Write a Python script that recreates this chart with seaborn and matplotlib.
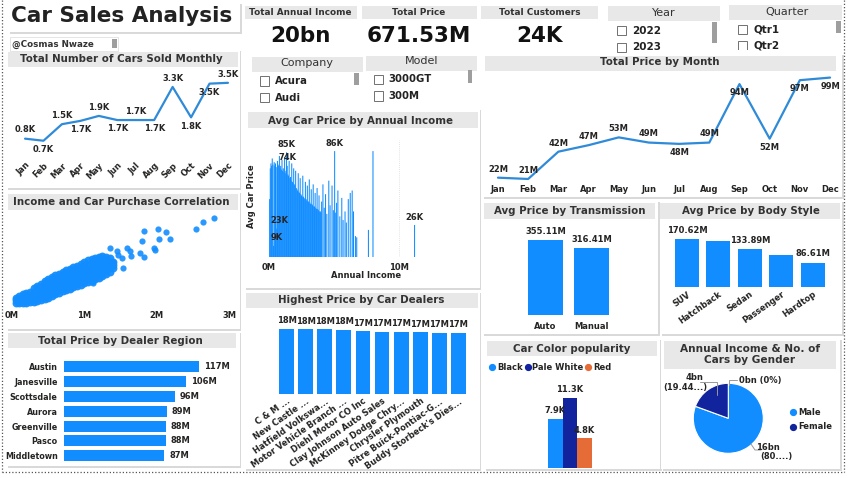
import matplotlib
matplotlib.use("Agg")
import matplotlib.pyplot as plt
from matplotlib.patches import Rectangle
from matplotlib.lines import Line2D
import seaborn as sns

sns.set_style("white")
plt.rcParams['font.family'] = ['DejaVu Sans']

# ---------------- data ----------------
months = ["Jan", "Feb", "Mar", "Apr", "May", "Jun", "Jul", "Aug", "Sep", "Oct", "Nov", "Dec"]
cars_sold_k = [0.8, 0.7, 1.5, 1.66, 1.9, 1.7, 1.7, 1.7, 3.3, 1.83, 3.46, 3.5]
price_month_m = [22, 21, 42, 47, 53, 49, 48, 49, 94, 52, 97, 99]

kpi_titles = ["Total Annual Income", "Total Price", "Total Customers"]
kpi_values = ["20bn", "671.53M", "24K"]

company_items = ["Acura", "Audi"]
model_items = ["3000GT", "300M"]
year_items = ["2022", "2023"]
quarter_items = ["Qtr1", "Qtr2"]

blob_income = [
    0.05, 0.05, 0.05,
    0.10, 0.10, 0.10,
    0.15, 0.15, 0.15, 0.15,
    0.20, 0.20, 0.20, 0.20,
    0.25, 0.25, 0.25, 0.25,
    0.30, 0.30, 0.30, 0.30, 0.30,
    0.35, 0.35, 0.35, 0.35, 0.35, 0.35,
    0.40, 0.40, 0.40, 0.40, 0.40, 0.40,
    0.45, 0.45, 0.45, 0.45, 0.45, 0.45, 0.45,
    0.50, 0.50, 0.50, 0.50, 0.50, 0.50, 0.50,
    0.55, 0.55, 0.55, 0.55, 0.55, 0.55, 0.55,
    0.60, 0.60, 0.60, 0.60, 0.60, 0.60, 0.60,
    0.65, 0.65, 0.65, 0.65, 0.65, 0.65, 0.65,
    0.70, 0.70, 0.70, 0.70, 0.70, 0.70, 0.70,
    0.75, 0.75, 0.75, 0.75, 0.75, 0.75, 0.75,
    0.80, 0.80, 0.80, 0.80, 0.80, 0.80, 0.80,
    0.85, 0.85, 0.85, 0.85, 0.85, 0.85, 0.85,
    0.90, 0.90, 0.90, 0.90, 0.90, 0.90, 0.90,
    0.95, 0.95, 0.95, 0.95, 0.95, 0.95, 0.95,
    1.00, 1.00, 1.00, 1.00, 1.00, 1.00, 1.00,
    1.05, 1.05, 1.05, 1.05, 1.05, 1.05, 1.05,
    1.10, 1.10, 1.10, 1.10, 1.10, 1.10, 1.10,
    1.15, 1.15, 1.15, 1.15, 1.15, 1.15, 1.15,
    1.20, 1.20, 1.20, 1.20, 1.20, 1.20, 1.20,
    1.25, 1.25, 1.25, 1.25, 1.25, 1.25, 1.25,
    1.30, 1.30, 1.30, 1.30, 1.30, 1.30,
    1.35, 1.35, 1.35, 1.35, 1.35,
    1.40, 1.40, 1.40,
]
blob_price = [
    0.07, 0.15, 0.22,
    0.07, 0.17, 0.27,
    0.07, 0.17, 0.27, 0.32,
    0.07, 0.17, 0.27, 0.35,
    0.08, 0.18, 0.28, 0.40,
    0.10, 0.20, 0.30, 0.40, 0.50,
    0.12, 0.22, 0.32, 0.42, 0.50, 0.57,
    0.14, 0.24, 0.34, 0.44, 0.54, 0.64,
    0.17, 0.27, 0.37, 0.47, 0.57, 0.66, 0.71,
    0.22, 0.32, 0.42, 0.52, 0.62, 0.70, 0.78,
    0.27, 0.37, 0.47, 0.57, 0.67, 0.77, 0.85,
    0.32, 0.42, 0.52, 0.62, 0.72, 0.82, 0.90,
    0.36, 0.46, 0.56, 0.66, 0.76, 0.86, 0.94,
    0.41, 0.51, 0.61, 0.71, 0.81, 0.91, 0.99,
    0.45, 0.55, 0.65, 0.75, 0.85, 0.95, 1.04,
    0.49, 0.59, 0.69, 0.79, 0.89, 0.99, 1.09,
    0.53, 0.63, 0.73, 0.83, 0.93, 1.03, 1.14,
    0.57, 0.67, 0.77, 0.87, 0.97, 1.07, 1.18,
    0.61, 0.71, 0.81, 0.91, 1.01, 1.11, 1.23,
    0.65, 0.75, 0.85, 0.95, 1.05, 1.15, 1.28,
    0.69, 0.79, 0.89, 0.99, 1.09, 1.19, 1.33,
    0.73, 0.83, 0.93, 1.03, 1.13, 1.23, 1.36,
    0.77, 0.87, 0.97, 1.07, 1.17, 1.27, 1.40,
    0.82, 0.92, 1.02, 1.12, 1.22, 1.32, 1.43,
    0.87, 0.97, 1.07, 1.17, 1.27, 1.37, 1.46,
    0.93, 1.03, 1.13, 1.23, 1.33, 1.42,
    1.00, 1.10, 1.20, 1.30, 1.40,
    1.10, 1.20, 1.30,
]
outlier_income = [2.79, 2.64, 2.55, 2.13, 2.19, 2.02, 2.03, 1.83, 1.80, 1.97, 1.98, 1.77,
                  1.82, 1.63, 1.59, 1.64, 1.54, 1.35, 1.45, 1.47, 1.52, 1.40, 1.30, 1.12]
outlier_price = [2.60, 2.48, 2.28, 2.17, 1.97, 2.28, 1.98, 2.22, 1.90, 1.70, 1.63, 1.55,
                 1.43, 1.62, 1.69, 1.45, 1.10, 1.70, 1.60, 1.50, 1.40, 1.30, 1.27, 0.65]

regions = ["Austin", "Janesville", "Scottsdale", "Aurora", "Greenville", "Pasco", "Middletown"]
region_price_m = [117, 106, 96, 89, 88, 88, 87]

inc_income_m = [
    0.05, 0.10, 0.15, 0.20, 0.25, 0.30, 0.35, 0.40, 0.45, 0.50,
    0.55, 0.60, 0.65, 0.70, 0.75, 0.80, 0.85, 0.90, 0.95, 1.00,
    1.05, 1.10, 1.15, 1.20, 1.25, 1.30, 1.35, 1.40, 1.45, 1.50,
    1.55, 1.60, 1.65, 1.70, 1.75, 1.80, 1.85, 1.90, 1.95, 2.00,
    2.05, 2.10, 2.15, 2.20, 2.25, 2.30, 2.35, 2.40, 2.45, 2.50,
    2.55, 2.60, 2.65, 2.70, 2.75, 2.80, 2.85, 2.90, 2.95, 3.00,
    3.05, 3.10, 3.15, 3.20, 3.25, 3.30, 3.35, 3.40, 3.45, 3.50,
    3.55, 3.60, 3.65, 3.70, 3.75, 3.80, 3.85, 3.90, 3.95, 4.00,
    4.05, 4.15, 4.25, 4.35, 4.45, 4.60, 4.70, 4.85, 4.95, 5.05,
    5.10, 5.20, 5.30, 5.45, 5.60, 5.70, 5.85, 5.95, 6.10, 6.25,
    6.40, 6.50, 6.65, 6.75, 7.65, 8.00, 11.20,
]
inc_avg_price_k = [
    47, 72, 76, 74, 80, 75, 9, 77, 74, 76,
    73, 23, 78, 75, 74, 82, 72, 74, 71, 79,
    70, 72, 69, 81, 68, 70, 85, 74, 67, 66,
    78, 64, 65, 62, 76, 61, 60, 72, 59, 58,
    70, 56, 55, 54, 68, 53, 52, 64, 51, 50,
    49, 66, 49, 48, 47, 61, 47, 46, 58, 45,
    45, 63, 44, 43, 55, 43, 42, 59, 41, 41,
    52, 40, 39, 56, 39, 38, 50, 37, 37, 36,
    45, 59, 40, 51, 35, 62, 42, 58, 38, 86,
    36, 44, 54, 33, 48, 30, 37, 28, 47, 52,
    54, 37, 17, 16, 22, 86, 26,
]
inc_labelled = [0.35, 0.60, 1.35, 1.40, 5.05, 11.20]

dealers = ["C & M ...", "New Castle ...", "Hatfield Volkswa...", "Motor Vehicle Branch ...",
           "Diehl Motor CO Inc", "Clay Johnson Auto Sales", "McKinney Dodge Chry...",
           "Chrysler Plymouth", "Pitre Buick-Pontiac-G...", "Buddy Storbeck's Dies..."]
dealer_price_m = [18.2, 18.1, 18.0, 17.9, 17.45, 17.4, 17.4, 17.2, 17.1, 17.0]

transmissions = ["Auto", "Manual"]
transmission_price_m = [355.11, 316.41]

body_styles = ["SUV", "Hatchback", "Sedan", "Passenger", "Hardtop"]
body_price_m = [170.62, 164.7, 133.89, 112.7, 86.61]
body_labelled = [True, False, True, False, True]

car_colors = ["Black", "Pale White", "Red"]
car_color_count_k = [7.9, 11.3, 4.8]

genders = ["Male", "Female"]
gender_income_bn = [16.12, 3.89]
gender_labels = ["16bn\n(80....)", "4bn\n(19.44...)"]

# ---------------- style ----------------
W, H = 850, 478
BLUE = "#118DFF"
NAVY = "#12239E"
ORANGE = "#E66C37"
LINEC = "#2F8AD8"
BAND = "#E8E8E8"
SHADOW = "#D9D9D9"
TXT = "#252423"

fig = plt.figure(figsize=(8.5, 4.78), dpi=100)
fig.patch.set_facecolor("white")


def fx(x):
    return x / W


def fy(y):
    return 1 - y / H


def rect(x0, y0, x1, y1, fc, ec="none", lw=0, z=-2):
    fig.add_artist(Rectangle((fx(x0), fy(y1)), (x1 - x0) / W, (y1 - y0) / H,
                             transform=fig.transFigure, facecolor=fc, edgecolor=ec,
                             linewidth=lw, zorder=z))


def fline(xs, ys, color="#8a8a8a", lw=0.7, ls="-", z=2):
    fig.add_artist(Line2D([fx(x) for x in xs], [fy(y) for y in ys], transform=fig.transFigure,
                          color=color, linewidth=lw, linestyle=ls, zorder=z))


def text(x, y, s, size=6, weight="bold", ha="center", va="center", color=TXT, **kw):
    return fig.text(fx(x), fy(y), s, fontsize=size, fontweight=weight, ha=ha, va=va,
                    color=color, **kw)


def panel(x0, y0, x1, y1):
    rect(x0 + 1.5, y0 + 1.5, x1 + 1.5, y1 + 1.5, SHADOW, z=-3)
    rect(x0, y0, x1, y1, "white", z=-2.5)


def band(x0, y0, x1, y1, title, cx, cy, size=7.4, weight="bold"):
    rect(x0, y0, x1, y1, BAND, z=-2)
    text(cx, cy, title, size=size, weight=weight, color="#333333")


def axes(x0, y0, x1, y1):
    ax = fig.add_axes([fx(x0), fy(y1), (x1 - x0) / W, (y1 - y0) / H])
    ax.set_facecolor("none")
    for s in ax.spines.values():
        s.set_visible(False)
    return ax


def checkbox(x0, y0, size=9):
    rect(x0, y0, x0 + size, y0 + size, "white", ec="#707070", lw=0.7, z=1)


def scrollbar(x0, y0, x1, y1):
    rect(x0, y0, x1, y1, "#9E9E9E", z=1)


# ---------------- panels ----------------
panel(8, 2, 240, 32)
panel(6, 50, 240, 188)
panel(6, 192, 240, 329)
panel(6, 331, 240, 466)
panel(244, 108, 480, 288)
panel(244, 291, 480, 469)
panel(482, 53, 842, 197)
panel(482, 200, 658, 334)
panel(660, 200, 842, 334)
panel(484, 338, 660, 469)
panel(661, 338, 840, 469)

# outer dotted frame
fline([1.5, 1.5], [0, 472], color="#555555", lw=0.9, ls=(0, (1, 1.6)))
fline([1.5, 844], [472, 472], color="#555555", lw=0.9, ls=(0, (1, 1.6)))
fline([844, 844], [0, 472], color="#555555", lw=0.9, ls=(0, (1, 1.6)))

# title
text(121.5, 16.5, "Car Sales Analysis", size=15.5, weight="bold", color="#222222")
rect(10, 37, 118, 51, "white", ec="#E0E0E0", lw=0.6, z=-1)
text(12.5, 44.3, "@Cosmas Nwaze", size=6.3, ha="left", color="#333333")
scrollbar(112, 39, 116.5, 48)

# KPI cards
kpi_bands = [(245, 357, 300.5), (362, 477, 419), (481, 598, 540)]
for (x0, x1, cx), kt, kv in zip(kpi_bands, kpi_titles, kpi_values):
    band(x0, 6, x1, 18.5, kt, cx, 12.3, size=6.4)
    text(cx, 35.5, kv, size=15.5, weight="bold", color="#111111")

# slicers
band(252, 57, 363, 72, "Company", 306.7, 63, size=8, weight="normal")
band(366, 56, 477, 71, "Model", 421.7, 61.5, size=8, weight="normal")
band(608, 6, 720, 21, "Year", 663.5, 12.8, size=8, weight="normal")
band(729, 5, 842, 20, "Quarter", 786.7, 11.8, size=8, weight="normal")
for i, it in enumerate(company_items):
    y = 81 + i * 16.7
    checkbox(259.5, y - 4.5)
    text(275, y, it, size=7.3, ha="left", color="#222222")
for i, it in enumerate(model_items):
    y = 79.5 + i * 16.5
    checkbox(373.5, y - 4.5)
    text(388, y, it, size=7.3, ha="left", color="#222222")
for i, it in enumerate(year_items):
    y = 30.8 + i * 16.3
    checkbox(616.5, y - 4.5)
    text(632.5, y, it, size=7.5, ha="left", color="#222222")
for i, it in enumerate(quarter_items):
    y = 29.5 + i * 16.5
    checkbox(737.5, y - 4.5)
    text(753, y, it, size=7.5, ha="left", color="#222222")
rect(730, 50, 842, 53, "white", z=2.5)
scrollbar(354, 73, 358.5, 85)
scrollbar(468, 70, 472, 83)
scrollbar(712, 22, 716.5, 43)
scrollbar(836, 21, 840.5, 33)

# ---------------- Total Number of Cars Sold Monthly ----------------
band(8, 52, 238, 67, "Total Number of Cars Sold Monthly", 121, 59.5)
ax = axes(16, 70, 237, 158)
xs = list(range(len(months)))
sns.lineplot(x=xs, y=cars_sold_k, ax=ax, color=LINEC, linewidth=1.6, sort=False)
ax.set_xlim(-0.49, 11.49)
ax.set_ylim(-0.135, 4.12)
ax.set_yticks([])
ax.set_xticks(xs)
ax.set_xticklabels(months, rotation=45, ha="right", rotation_mode="anchor",
                   fontsize=6, fontweight="bold", color=TXT)
ax.tick_params(axis="x", length=0, pad=2)
cars_above = [1, 0, 1, 0, 1, 0, 1, 0, 1, 0, 0, 1]
for i, (v, up) in enumerate(zip(cars_sold_k, cars_above)):
    ax.annotate(f"{v:.1f}K", (i, v), xytext=(0, 3 if up else -3), textcoords="offset points",
                ha="center", va="bottom" if up else "top", fontsize=6, fontweight="bold", color=TXT)

# ---------------- Income and Car Purchase Correlation ----------------
band(8, 194, 238, 210, "Income and Car Purchase Correlation", 121, 202)
ax = axes(12, 213, 229, 308)
sns.scatterplot(x=blob_income, y=blob_price, ax=ax, color=BLUE, s=32, linewidth=0, alpha=0.95)
sns.scatterplot(x=outlier_income, y=outlier_price, ax=ax, color=BLUE, s=20, linewidth=0, alpha=0.9)
ax.set_xlim(0, 3)
ax.set_ylim(-0.09, 2.75)
ax.set_yticks([])
ax.set_xticks([0, 1, 2, 3])
ax.set_xticklabels(["0M", "1M", "2M", "3M"], fontsize=6, fontweight="bold", color=TXT)
ax.tick_params(axis="x", length=0, pad=2)

# ---------------- Total Price by Dealer Region ----------------
band(8, 333, 236, 348, "Total Price by Dealer Region", 120, 340.7)
ax = axes(64, 359, 236, 463)
sns.barplot(x=region_price_m, y=regions, orient="y", ax=ax, color=BLUE, saturation=1,
            width=0.74, linewidth=0)
ax.set_xlim(0, 149)
ax.set_ylim(6.49, -0.52)
ax.set_xlabel("")
ax.set_ylabel("")
ax.set_xticks([])
ax.set_yticks(range(len(regions)))
ax.set_yticklabels(regions, fontsize=5.8, fontweight="bold", color=TXT)
ax.tick_params(axis="y", length=0, pad=4.5)
for i, v in enumerate(region_price_m):
    ax.text(v + 4, i, f"{v}M", va="center", ha="left", fontsize=6, fontweight="bold", color=TXT)

# ---------------- Avg Car Price by Annual Income ----------------
band(248, 112, 478, 128, "Avg Car Price by Annual Income", 360.7, 120.5)
ax = axes(269, 140, 465, 257)
sns.barplot(x=inc_income_m, y=inc_avg_price_k, native_scale=True, orient="x", ax=ax,
            color=BLUE, saturation=1, width=1.6, errorbar=None, linewidth=0, snap=False)
ax.set_xlim(0, 15.08)
ax.set_ylim(0, 95)
ax.set_xlabel("")
ax.set_ylabel("")
ax.set_yticks([])
ax.set_xticks([0, 10])
ax.set_xticklabels(["0M", "10M"], fontsize=6, fontweight="bold", color=TXT)
ax.tick_params(axis="x", length=0, pad=4)
ax.axvline(10, color="#DADADA", linewidth=0.6, linestyle=(0, (1, 1.5)), zorder=0)
for xv in inc_labelled:
    v = inc_avg_price_k[inc_income_m.index(xv)]
    ax.annotate(f"{v}K", (xv, v), xytext=(0 if xv > 1 else 2, 2.5), textcoords="offset points",
                ha="center", va="bottom", fontsize=6, fontweight="bold", color=TXT)
text(251.5, 196, "Avg Car Price", size=6, rotation=90)
text(366, 275, "Annual Income", size=6)

# ---------------- Highest Price by Car Dealers ----------------
band(246, 293, 478, 308, "Highest Price by Car Dealers", 360.7, 300.3)
ax = axes(277, 315, 468, 394)
sns.barplot(x=dealers, y=dealer_price_m, ax=ax, color=BLUE, saturation=1, width=0.78, linewidth=0)
ax.set_xlim(-0.5, 9.5)
ax.set_ylim(0, 22)
ax.set_xlabel("")
ax.set_ylabel("")
ax.set_yticks([])
ax.set_xticks(range(len(dealers)))
ax.set_xticklabels(dealers, rotation=35, ha="right", rotation_mode="anchor",
                   fontsize=6, fontweight="bold", color=TXT)
ax.tick_params(axis="x", length=0, pad=2)
for i, v in enumerate(dealer_price_m):
    ax.annotate(f"{round(v)}M", (i, v), xytext=(0, 2.5), textcoords="offset points",
                ha="center", va="bottom", fontsize=6, fontweight="bold", color=TXT)

# ---------------- Total Price by Month ----------------
band(485, 56, 836, 71, "Total Price by Month", 660, 62.5)
ax = axes(485, 72, 840, 183)
sns.lineplot(x=xs, y=price_month_m, ax=ax, color=LINEC, linewidth=1.6, sort=False)
ax.set_xlim(-0.43, 11.33)
ax.set_ylim(17.9, 103.3)
ax.set_yticks([])
ax.set_xticks(xs)
ax.set_xticklabels(months, fontsize=6, fontweight="bold", color=TXT)
ax.tick_params(axis="x", length=0, pad=1.5)
month_above = [1, 1, 1, 1, 1, 1, 0, 1, 0, 0, 0, 0]
for i, (v, up) in enumerate(zip(price_month_m, month_above)):
    ax.annotate(f"{v}M", (i, v), xytext=(0, 3 if up else -3), textcoords="offset points",
                ha="center", va="bottom" if up else "top", fontsize=6, fontweight="bold", color=TXT)

# ---------------- Avg Price by Transmission ----------------
band(484, 203, 655, 219, "Avg Price by Transmission", 570, 210.8)
ax = axes(522.5, 225, 614.5, 315.3)
sns.barplot(x=transmissions, y=transmission_price_m, ax=ax, color=BLUE, saturation=1,
            width=0.76, linewidth=0)
ax.set_xlim(-0.5, 1.5)
ax.set_ylim(0, 424)
ax.set_xlabel("")
ax.set_ylabel("")
ax.set_yticks([])
ax.set_xticks([0, 1])
ax.set_xticklabels(transmissions, fontsize=6, fontweight="bold", color=TXT)
ax.tick_params(axis="x", length=0, pad=5)
for i, v in enumerate(transmission_price_m):
    ax.annotate(f"{v:.2f}M", (i, v), xytext=(0, 3), textcoords="offset points",
                ha="center", va="bottom", fontsize=6, fontweight="bold", color=TXT)

# ---------------- Avg Price by Body Style ----------------
band(660, 203, 840, 219, "Avg Price by Body Style", 750.7, 210.8)
ax = axes(671.3, 225, 828.3, 287)
sns.barplot(x=body_styles, y=body_price_m, ax=ax, color=BLUE, saturation=1, width=0.76, linewidth=0)
ax.set_xlim(-0.5, 4.5)
ax.set_ylim(0, 220)
ax.set_xlabel("")
ax.set_ylabel("")
ax.set_yticks([])
ax.set_xticks(range(len(body_styles)))
ax.set_xticklabels(body_styles, rotation=35, ha="right", rotation_mode="anchor",
                   fontsize=6, fontweight="bold", color=TXT)
ax.tick_params(axis="x", length=0, pad=2)
for i, (v, show) in enumerate(zip(body_price_m, body_labelled)):
    if show:
        ax.annotate(f"{v:.2f}M", (i, v), xytext=(0, 3), textcoords="offset points",
                    ha="center", va="bottom", fontsize=6, fontweight="bold", color=TXT)

# ---------------- Car Color popularity ----------------
band(487, 341, 657, 356, "Car Color popularity", 571.7, 348.5)
color_palette = [BLUE, NAVY, ORANGE]
ax = axes(548, 375, 592, 467.7)
sns.barplot(x=car_colors, y=car_color_count_k, hue=car_colors, palette=color_palette, ax=ax,
            saturation=1, width=1, linewidth=0, legend=False)
ax.set_xlim(-0.5, 2.5)
ax.set_ylim(0, 15)
ax.set_xlabel("")
ax.set_ylabel("")
ax.set_xticks([])
ax.set_yticks([])
for i, v in enumerate(car_color_count_k):
    ax.annotate(f"{v}K", (i, v), xytext=(0, 2.5), textcoords="offset points",
                ha="center", va="bottom", fontsize=6, fontweight="bold", color=TXT)
leg_x = [492.3, 527.7, 588.3]
for lx, name, c in zip(leg_x, car_colors, color_palette):
    fig.add_artist(Line2D([fx(lx)], [fy(367.3)], transform=fig.transFigure, marker="o",
                          markersize=4.2, color=c, linestyle="none"))
    text(lx + 4.5, 367.5, name, size=6, ha="left")

# ---------------- Annual Income & No. of Cars by Gender ----------------
rect(664, 341, 836, 369, BAND, z=-2)
text(750, 348.5, "Annual Income & No. of", size=7.6, color="#333333")
text(750, 360.3, "Cars by Gender", size=7.6, color="#333333")
ax = axes(693.3, 383.3, 763.3, 453.3)
ax.pie(gender_income_bn, colors=[BLUE, NAVY], startangle=90, counterclock=False,
       wedgeprops=dict(edgecolor="white", linewidth=0.8))
ax.set_xlim(-1, 1)
ax.set_ylim(-1, 1)
text(760, 380, "0bn (0%)", size=6)
fline([729.3, 729.3, 737], [385, 379.5, 379.5], color="#9a9a9a")
text(695, 377.7, gender_labels[1].split("\n")[0], size=6)
text(685, 387.7, gender_labels[1].split("\n")[1], size=6)
fline([700, 717.3, 717.3], [382, 382, 395], color="#9a9a9a")
text(768.3, 447.7, gender_labels[0].split("\n")[0], size=6)
text(776.7, 456.7, gender_labels[0].split("\n")[1], size=6)
fline([751, 755, 761], [444, 450, 450], color="#9a9a9a")
for ly, name, c in zip([412.3, 426.7], genders, [BLUE, NAVY]):
    fig.add_artist(Line2D([fx(793.3)], [fy(ly)], transform=fig.transFigure, marker="o",
                          markersize=4.2, color=c, linestyle="none"))
    text(798.3, ly + 0.2, name, size=6, ha="left")

fig.savefig("out.png", dpi=100, facecolor="white")
